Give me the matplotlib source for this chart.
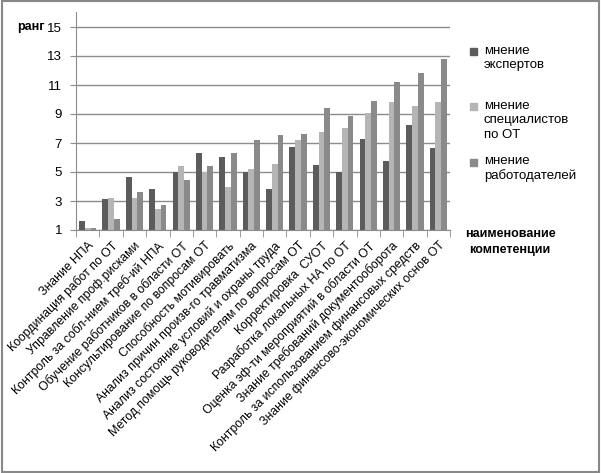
import matplotlib
matplotlib.use("Agg")
import matplotlib.pyplot as plt
import numpy as np
from matplotlib.patches import Rectangle

categories = [
    "Знание НПА",
    "Координация работ по ОТ",
    "Управление проф.рисками",
    "Контроль за собл-нием треб-ий НПА",
    "Обучение работников в области ОТ",
    "Консультирование по вопросам ОТ",
    "Способность мотивировать",
    "Анализ причин произв-го травматизма",
    "Анализ состояние условий и охраны труда",
    "Метод.помощь руководителям по вопросам ОТ",
    "Корректировка  СУОТ",
    "Разработка локальных НА по ОТ",
    "Оценка эф-ти мероприятий в области ОТ",
    "Знание требований документооборота",
    "Контроль за использованием финансовых средств",
    "Знание финансово-экономических основ ОТ",
]
experts = [1.65, 3.15, 4.63, 3.8, 5.0, 6.29, 6.01, 5.0, 3.81, 6.7, 5.5, 5.0, 7.3, 5.78, 8.22, 6.68]
specialists = [1.15, 3.2, 3.19, 2.45, 5.41, 5.0, 3.99, 5.18, 5.57, 7.21, 7.76, 8.01, 9.05, 9.8, 9.57, 9.8]
employers = [1.15, 1.78, 3.6, 2.7, 4.45, 5.41, 6.29, 7.21, 7.53, 7.6, 9.41, 8.86, 9.9, 11.2, 11.8, 12.8]
series_labels = ["мнение\nэкспертов", "мнение\nспециалистов\nпо ОТ", "мнение\nработодателей"]
yticks = [1, 3, 5, 7, 9, 11, 13, 15]

colors = ["#5c5c5c", "#b5b5b5", "#8a8a8a"]
plt.rcParams['font.family'] = ['Liberation Sans', 'DejaVu Sans']

fig = plt.figure(figsize=(6.01, 4.73), dpi=100)
ax = fig.add_axes([76/601, 1 - 230/473, (450-76)/601, (230-12.5)/473])

x = np.arange(len(categories))
bw = 0.245
base = 1
for k, vals in enumerate([experts, specialists, employers]):
    vals = np.array(vals)
    ax.bar(x + (k - 1) * bw, vals - base, bw, bottom=base, color=colors[k], linewidth=0)

ax.set_xlim(-0.5, len(categories) - 0.5)
ax.set_ylim(1, 16)
ax.set_yticks(yticks)
ax.set_yticklabels([str(v) for v in yticks], fontsize=9.5)
ax.yaxis.grid(True, color="#8c8c8c", linewidth=1.0)
ax.set_axisbelow(True)
for s in ["top", "right"]:
    ax.spines[s].set_visible(False)
ax.spines["left"].set_color("#8c8c8c")
ax.spines["bottom"].set_color("#8c8c8c")
ax.tick_params(axis="y", length=4, color="#8c8c8c", pad=6)

ax.set_xticks(x)
ax.set_xticklabels(categories, rotation=45, ha="right", rotation_mode="anchor", fontsize=8.8)
ax.tick_params(axis="x", which="major", length=0, pad=7)
ax.set_xticks(np.arange(-0.5, len(categories)), minor=True)
ax.tick_params(axis="x", which="minor", length=5, color="#8c8c8c")

fig.text(17/601, 1 - 27/473, "ранг", fontsize=9, fontweight="bold", ha="left", va="center")
fig.text(510/601, 1 - 234/473, "наименование", fontsize=9, fontweight="bold", ha="center", va="center")
fig.text(510/601, 1 - 250/473, "компетенции", fontsize=9, fontweight="bold", ha="center", va="center")

leg_y = [52, 107, 162]
for k in range(3):
    fig.patches.append(Rectangle((470/601, 1 - (leg_y[k] + 3.5)/473), 7/601, 7/473,
                                 transform=fig.transFigure, color=colors[k]))
    fig.text(484/601, 1 - (leg_y[k] - 7)/473, series_labels[k], fontsize=9.5, ha="left", va="top",
             linespacing=1.25)

fig.patches.append(Rectangle((1.5/601, 1.5/473), 597/601, 470/473, transform=fig.transFigure,
                             fill=False, edgecolor="#888888", linewidth=1.5))

fig.savefig("out.png", dpi=100)
